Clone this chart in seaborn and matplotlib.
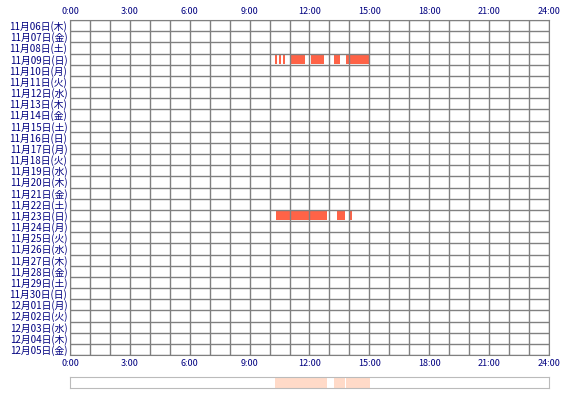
import matplotlib
matplotlib.use("Agg")
import matplotlib.pyplot as plt
import seaborn as sns
import datetime as dt

sns.set_style("white")
plt.rcParams['font.family'] = ['Noto Sans CJK JP', 'DejaVu Sans']

wd = ['月', '火', '水', '木', '金', '土', '日']
start = dt.date(2025, 11, 6)
dates = [start + dt.timedelta(days=i) for i in range(30)]
labels = [f"{d.month}月{d.day:02d}日({wd[d.weekday()]})" for d in dates]

seg_rows = [3]*7 + [17]*3
seg_start = [10.27, 10.47, 10.67, 11.07, 12.07, 13.23, 13.83, 10.32, 13.38, 14.03]
seg_end = [10.37, 10.57, 10.77, 11.77, 12.73, 13.53, 15.03, 12.88, 13.78, 14.13]

fig = plt.figure(figsize=(5.7, 4), dpi=100)
ax = fig.add_axes([70/570, 1-355/400, 479/570, 335/400])
red = '#ff6347'
for r, s, e in zip(seg_rows, seg_start, seg_end):
    ax.barh(r, e - s, left=s, height=0.8, color=red, linewidth=0)
ax.set_xlim(0, 24)
ax.set_ylim(29.5, -0.5)
for h in range(25):
    ax.axvline(h, color='#808080', linewidth=1, zorder=3)
for i in range(31):
    ax.axhline(i - 0.5, color='#808080', linewidth=1, zorder=3)
ax.set_xticks(range(0, 25, 3))
ax.set_xticklabels([f"{h}:00" for h in range(0, 25, 3)], fontsize=6.5, color='#000080')
ax.set_yticks(range(30))
ax.set_yticklabels(labels, fontsize=7, color='#000080')
ax.tick_params(axis='x', top=True, labeltop=True, length=0, pad=3)
ax.tick_params(axis='y', length=0, pad=2)
ax.grid(False)
for sp in ax.spines.values():
    sp.set_color('#808080')

ax2 = fig.add_axes([70/570, 1-388/400, 479/570, 11/400])
for s, e in zip(seg_start, seg_end):
    ax2.axvspan(s, e, color='#ffdac8', linewidth=0)
ax2.set_xlim(0, 24)
ax2.set_xticks([]); ax2.set_yticks([])
for sp in ax2.spines.values():
    sp.set_color('#bbbbbb')

fig.savefig("out.png", dpi=100)
